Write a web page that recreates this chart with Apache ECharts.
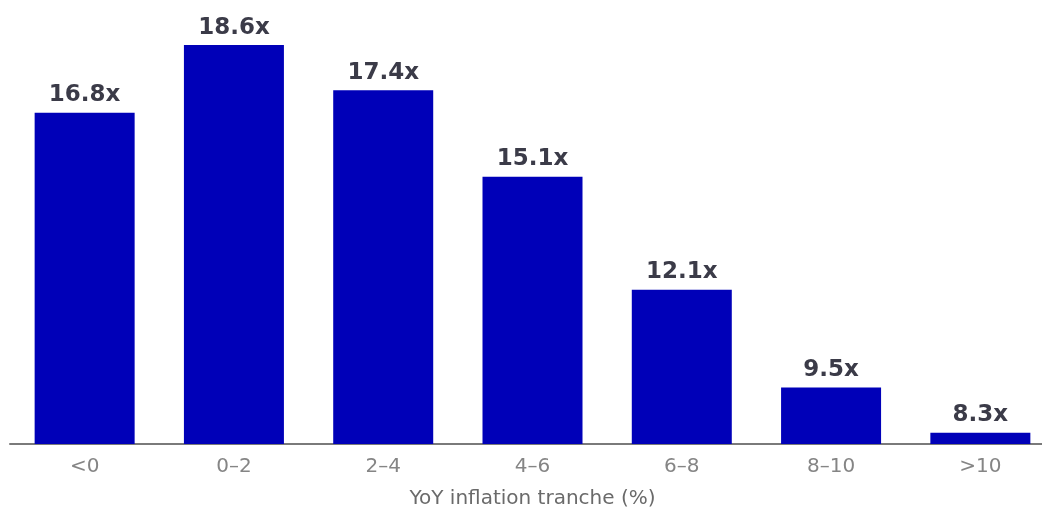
<!DOCTYPE html>
<html>
<head>
<meta charset="utf-8">
<script src="https://cdn.jsdelivr.net/npm/echarts@6/dist/echarts.min.js"></script>
<style>
  html, body { margin: 0; padding: 0; background: #fff; }
  #chart { width: 1042px; height: 512px; }
</style>
</head>
<body>
<div id="chart"></div>
<script>
// inflation tranches and P/E multiples
const categories = ['<0', '0\u20132', '2\u20134', '4\u20136', '6\u20138', '8\u201310', '>10'];
const multiples = [16.8, 18.6, 17.4, 15.1, 12.1, 9.5, 8.3];
const axisTitle = 'YoY inflation tranche (%)';

const chart = echarts.init(document.getElementById('chart'));
chart.setOption({
  animation: false,
  grid: { left: 10, width: 1045, top: 30, bottom: 68, outerBoundsMode: 'none' },
  xAxis: {
    type: 'category',
    data: categories,
    name: axisTitle,
    nameLocation: 'middle',
    nameGap: 45,
    nameTextStyle: { color: '#6a6a6a', fontSize: 20, fontFamily: 'DejaVu Sans' },
    axisLine: { lineStyle: { color: '#7a7a7a', width: 2 } },
    axisTick: { show: false },
    axisLabel: { color: '#858585', fontSize: 20, margin: 13, fontFamily: 'DejaVu Sans' }
  },
  yAxis: {
    type: 'value',
    min: 8,
    max: 19,
    show: false,
    splitLine: { show: false }
  },
  series: [{
    type: 'bar',
    data: multiples,
    barWidth: 100,
    itemStyle: { color: '#0000b8' },
    label: {
      show: true,
      position: 'top',
      distance: 6,
      formatter: p => p.value.toFixed(1) + 'x',
      color: '#3b3b48',
      fontSize: 23,
      fontWeight: 'bold',
      fontFamily: 'DejaVu Sans'
    }
  }]
});
</script>
</body>
</html>
